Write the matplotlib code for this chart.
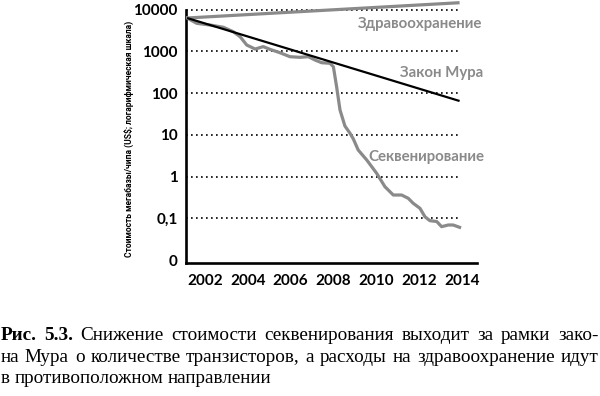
import numpy as np
import matplotlib
matplotlib.use("Agg")
import matplotlib.pyplot as plt

# ---- data ----
seq_years = [2001.16, 2001.61, 2002.23, 2002.86, 2003.32, 2003.64, 2003.95, 2004.34,
             2004.72, 2005.04, 2005.50, 2005.97, 2006.44, 2006.83, 2007.14, 2007.45,
             2007.84, 2008.00, 2008.15, 2008.31, 2008.54, 2008.77, 2008.93, 2009.16,
             2009.56, 2010.02, 2010.41, 2010.80, 2011.19, 2011.50, 2011.73, 2012.05,
             2012.28, 2012.51, 2012.83, 2013.06, 2013.37, 2013.60, 2013.90]
seq_values = [6260, 4670, 4250, 3750, 2940, 2230, 1410, 1130,
              1290, 1110, 924, 741, 716, 741, 618, 532,
              515, 427, 142, 39.2, 16.2, 11.0, 8.0, 4.32,
              2.49, 1.20, 0.571, 0.361, 0.361, 0.301, 0.229, 0.173,
              0.109, 0.0877, 0.0838, 0.0630, 0.0691, 0.0691, 0.0608]
moore_years = [2001.16, 2013.90]
moore_values = [6260, 64.4]
health_years = [2001.16, 2013.90]
health_values = [6260, 14550]

ytick_values = [0.01, 0.1, 1, 10, 100, 1000, 10000]
ytick_labels = ["0", "0,1", "1", "10", "100", "1000", "10000"]
xtick_values = [2002, 2004, 2006, 2008, 2010, 2012, 2014]
xtick_labels = ["2002", "2004", "2006", "2008", "2010", "2012", "2014"]

ylabel = "Стоимость мегабазы/чипа (US$; логарифмическая шкала)"
label_health = "Здравоохранение"
label_moore = "Закон Мура"
label_seq = "Секвенирование"
caption_bold = "Рис. 5.3."
caption_lines = [
    "Снижение стоимости секвенирования выходит за рамки зако-",
    "на Мура о количестве транзисторов, а расходы на здравоохранение идут",
    "в противоположном направлении",
]

GRAY = "#8a8a8a"
SANS = ["Lato", "Open Sans", "DejaVu Sans"]
SERIF = ["Liberation Serif", "DejaVu Serif"]

fig = plt.figure(figsize=(6.0, 3.96), dpi=100)
W, H = 600, 396
ax = fig.add_axes([186 / W, 1 - 263.3 / H, (476.7 - 186) / W, 263.3 / H])
ax.set_yscale("log")
ax.set_xlim(2001.11, 2014.7)
ax.set_ylim(0.00836, 16890)

# grid lines (dotted)
ax.hlines(ytick_values[1:], 2001.11, 2013.92, colors="black", linestyles=(0, (1, 2)),
          linewidth=1.2, zorder=1)

ax.plot(health_years, health_values, color=GRAY, lw=2.3, zorder=3, clip_on=False,
        solid_capstyle="butt")
ax.plot(moore_years, moore_values, color="black", lw=1.6, zorder=4, solid_capstyle="butt")
ax.plot(seq_years, seq_values, color=GRAY, lw=2.3, zorder=3, solid_joinstyle="round")

for s in ["top", "right"]:
    ax.spines[s].set_visible(False)
for s in ["left", "bottom"]:
    ax.spines[s].set_linewidth(1.9)
ax.spines["left"].set_bounds(0.00836, 10000)

ax.set_yticks(ytick_values)
ax.set_yticklabels(ytick_labels)
ax.yaxis.set_minor_locator(matplotlib.ticker.NullLocator())
ax.set_xticks(xtick_values)
ax.set_xticklabels(xtick_labels)
ax.tick_params(axis="both", length=0, labelsize=11, pad=6)
for t in ax.get_yticklabels() + ax.get_xticklabels():
    t.set_fontfamily(SANS)
    t.set_fontweight("bold")
ax.tick_params(axis="x", pad=8)

ax.text(2009.15, 4500, label_health, color=GRAY, fontsize=10.8, family=SANS,
        fontweight="bold", va="center", ha="left")
ax.text(2011.12, 307, label_moore, color=GRAY, fontsize=10.8, family=SANS,
        fontweight="bold", va="center", ha="left")
ax.text(2009.62, 2.99, label_seq, color=GRAY, fontsize=10.8, family=SANS,
        fontweight="bold", va="center", ha="left")

renderer = fig.canvas.get_renderer()

# y label: narrow bold, fitted to the reference length (~238 px)
yl = fig.text(129 / W, 1 - 139 / H, ylabel, rotation=90, ha="center", va="center",
              fontsize=8, fontweight="bold",
              family=["Roboto", "Lato", "DejaVu Sans"])
h = yl.get_window_extent(renderer).height
yl.set_fontsize(8 * 238 / h)


# ---- caption, justified ----
def width_px(s, fs, weight="normal"):
    t = fig.text(0, 0, s, fontsize=fs, family=SERIF, fontweight=weight)
    w = t.get_window_extent(renderer).width
    t.remove()
    return w

fs0 = 12.6
nat = width_px(caption_lines[1], fs0)
fs = min(15.0, fs0 * 588 / nat)

baselines = [340, 361.7, 383.3]
right = 598
for i, line in enumerate(caption_lines):
    words = []
    if i == 0:
        words += [(w, "bold") for w in caption_bold.split()]
    words += [(w, "normal") for w in line.split()]
    widths = [width_px(w, fs, wt) for w, wt in words]
    if i < 2:
        gap = (right - sum(widths)) / (len(words) - 1)
    else:
        gap = width_px("a b", fs) - width_px("ab", fs)
    x = 0.5
    for (w, wt), ww in zip(words, widths):
        fig.text(x / W, 1 - baselines[i] / H, w, fontsize=fs, family=SERIF,
                 fontweight=wt, va="baseline", ha="left")
        x += ww + gap

fig.savefig("out.png", dpi=100)
